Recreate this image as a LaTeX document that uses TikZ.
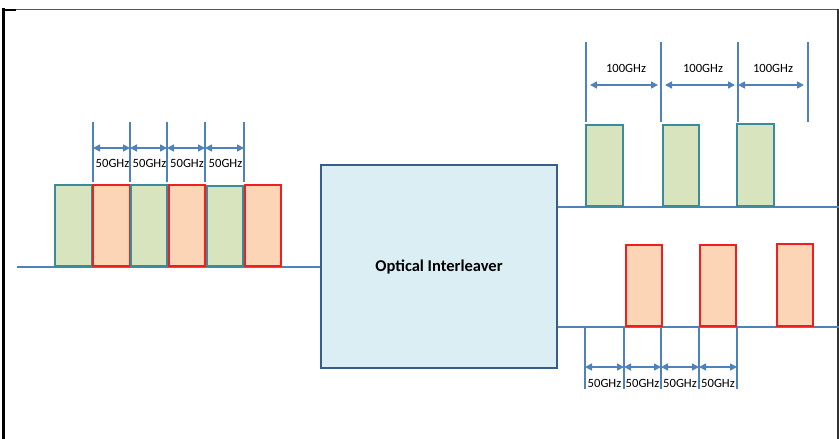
\documentclass[tikz,border=0pt]{standalone}
\usepackage{fontspec}
\setmainfont{Carlito}
\usetikzlibrary{arrows.meta}
\definecolor{fiberblue}{HTML}{4F81BD}
\definecolor{boxfill}{HTML}{DBEEF4}
\definecolor{boxdraw}{HTML}{385D8A}
\definecolor{grfill}{HTML}{D7E4BD}
\definecolor{grdraw}{HTML}{3A8C9C}
\definecolor{rdfill}{HTML}{FBD5B5}
\definecolor{rddraw}{HTML}{F01E1E}
\tikzset{
  fiber/.style={fiberblue, line width=1.8pt},
  gch/.style={fill=grfill, draw=grdraw, line width=1.4pt},
  rch/.style={fill=rdfill, draw=rddraw, line width=1.4pt},
  tick/.style={fiberblue, line width=1.3pt},
  dim/.style={fiberblue, line width=1.6pt,
    {Triangle[length=7pt,width=7pt]}-{Triangle[length=7pt,width=7pt]}},
  ghz/.style={font=\fontsize{12.6}{14}\selectfont, inner sep=0pt}
}

\begin{document}
\begin{tikzpicture}[x=1pt, y=-1pt]
  \useasboundingbox (0,0) rectangle (839,439);
  % frame
  \draw[gray!70!black, line width=1pt] (  5,  9) -- (839,  9);
  \draw[black, line width=3pt] (  3,  8) -- (  3,439);
  \draw[black, line width=2pt] (  3, 10) -- ( 16, 10);
  \draw[black!80, line width=1.2pt] (838,  9) -- (838,439);

  % interleaver
  \node[draw=boxdraw, fill=boxfill, line width=2.6pt, minimum width=236pt,
        minimum height=203pt, font=\fontsize{16.5}{18}\selectfont\bfseries]
        (ilv) at (439,266.5) {Optical Interleaver};

  % fibers
  \coordinate (in)  at ( 17,267);
  \coordinate (oa)  at (839,207);
  \coordinate (ob)  at (839,327);
  \draw[fiber] (in) -- (ilv.west |- in);
  \draw[fiber] (ilv.east |- oa) -- (oa);
  \draw[fiber] (ilv.east |- ob) -- (ob);

  % input channels
  \draw[gch] ( 55,185) rectangle ( 92,266);
  \draw[rch] ( 93,185) rectangle (130,266);
  \draw[gch] (131,185) rectangle (167,266);
  \draw[rch] (169,185) rectangle (205,266);
  \draw[gch] (207,186) rectangle (243,266);
  \draw[rch] (245,185) rectangle (281,266);

  % input spacing
  \coordinate (l1) at ( 93,122);
  \coordinate (l2) at (130,122);
  \coordinate (l3) at (167,122);
  \coordinate (l4) at (205,122);
  \coordinate (l5) at (244,122);
  \draw[tick] (l1) -- +(0,60);
  \draw[tick] (l2) -- +(0,60);
  \draw[tick] (l3) -- +(0,60);
  \draw[tick] (l4) -- +(0,60);
  \draw[tick] (l5) -- +(0,60);
  \draw[dim] ([yshift=-26pt]l1) -- ([yshift=-26pt]l2);
  \draw[dim] ([yshift=-26pt]l2) -- ([yshift=-26pt]l3);
  \draw[dim] ([yshift=-26pt]l3) -- ([yshift=-26pt]l4);
  \draw[dim] ([yshift=-26pt]l4) -- ([yshift=-26pt]l5);
  \node[ghz] (la) at (112.5,163) {50GHz};
  \node[ghz] (lb) at (149.5,163) {50GHz};
  \node[ghz] (lc) at (187.0,163) {50GHz};
  \node[ghz] (ld) at (225.5,163) {50GHz};

  % output a (odd channels)
  \draw[gch] (586,125) rectangle (623,206);
  \draw[gch] (663,125) rectangle (699,206);
  \draw[gch] (737,124) rectangle (774,206);
  \coordinate (a1) at (586, 42);
  \coordinate (a2) at (661, 42);
  \coordinate (a3) at (738, 42);
  \coordinate (a4) at (808, 42);
  \draw[tick] (a1) -- +(0,80);
  \draw[tick] (a2) -- +(0,80);
  \draw[tick] (a3) -- +(0,80);
  \draw[tick] (a4) -- +(0,80);
  \draw[dim, shorten <=4pt, shorten >=3pt] ([yshift=-43pt]a1) -- ([yshift=-43pt]a2);
  \draw[dim, shorten <=4pt, shorten >=3pt] ([yshift=-43pt]a2) -- ([yshift=-43pt]a3);
  \draw[dim, shorten >=4pt] ([yshift=-43pt]a3) -- ([yshift=-43pt]a4);
  \node[ghz] (aa) at (626, 68) {100GHz};
  \node[ghz] (ab) at (703, 68) {100GHz};
  \node[ghz] (ac) at (773, 68) {100GHz};

  % output b (even channels)
  \draw[rch] (626,245) rectangle (662,326);
  \draw[rch] (700,245) rectangle (736,326);
  \draw[rch] (777,244) rectangle (813,326);
  \coordinate (b1) at (585,327);
  \coordinate (b2) at (624,327);
  \coordinate (b3) at (661,327);
  \coordinate (b4) at (699,327);
  \coordinate (b5) at (737,327);
  \draw[tick] (b1) -- +(0,62);
  \draw[tick] (b2) -- +(0,62);
  \draw[tick] (b3) -- +(0,62);
  \draw[tick] (b4) -- +(0,62);
  \draw[tick] (b5) -- +(0,62);
  \draw[dim] ([yshift=-40pt]b1) -- ([yshift=-40pt]b2);
  \draw[dim] ([yshift=-40pt]b2) -- ([yshift=-40pt]b3);
  \draw[dim] ([yshift=-40pt]b3) -- ([yshift=-40pt]b4);
  \draw[dim] ([yshift=-40pt]b4) -- ([yshift=-40pt]b5);
  \node[ghz] (ba) at (604.5,383) {50GHz};
  \node[ghz] (bb) at (642.5,383) {50GHz};
  \node[ghz] (bc) at (680.0,383) {50GHz};
  \node[ghz] (bd) at (718.0,383) {50GHz};
\end{tikzpicture}
\end{document}
